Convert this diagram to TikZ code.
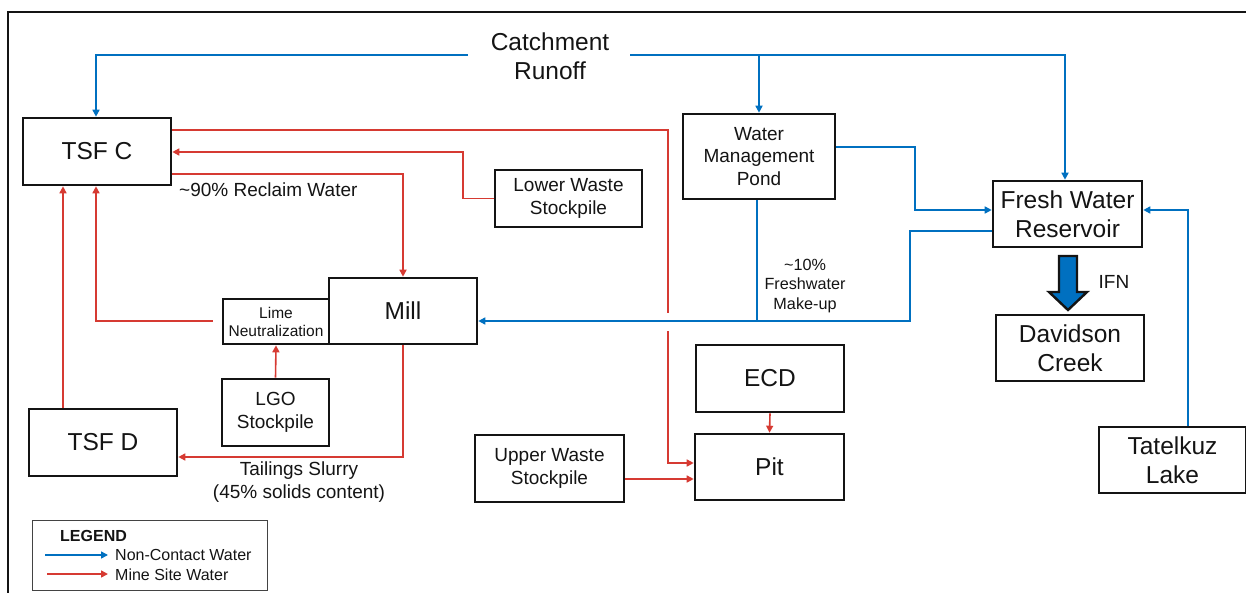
\documentclass[tikz,border=0pt]{standalone}
\usepackage{fontspec}
\setmainfont{Liberation Sans}
\usetikzlibrary{arrows.meta}
\definecolor{bl}{RGB}{0,112,192}
\definecolor{rd}{RGB}{214,58,50}
\definecolor{ink}{RGB}{20,20,20}
\begin{document}
\begin{tikzpicture}[x=1pt,y=-1pt,
  box/.style={draw=ink, line width=2.6pt, rectangle, inner sep=0pt, align=center, text=ink},
  big/.style={font=\fontsize{24.5}{29.5}\selectfont},
  mid/.style={font=\fontsize{19}{22.7}\selectfont},
  sml/.style={font=\fontsize{15.5}{18}\selectfont},
  lbl/.style={inner sep=0pt, align=center, text=ink},
  tip/.style={-{Triangle[length=7pt,width=7pt]}},
  bline/.style={draw=bl, line width=1.6pt},
  rline/.style={draw=rd, line width=1.6pt}
]
\useasboundingbox (0,0) rectangle (1246,593);
% frame
\draw[ink, line width=1.8pt] (8,593) -- (8,12) -- (1250,12);

% nodes
\node[box, big, minimum width=148pt, minimum height=67pt] (tsfc) at (97,151.5) {TSF C};
\node[box, mid, minimum width=152pt, minimum height=85pt] (wmp) at (759,156.5) {Water\\Management\\Pond};
\node[box, mid, line width=2pt, minimum width=147pt, minimum height=57pt] (lws) at (568.5,198.5) {Lower Waste\\Stockpile};
\node[box, big, minimum width=149pt, minimum height=66pt] (fwr) at (1067.5,214) {Fresh Water\\Reservoir};
\node[box, big, minimum width=148pt, minimum height=66pt] (mill) at (403,311) {Mill};
\node[box, sml, minimum width=106pt, minimum height=45pt] (lime) at (276,321.5) {Lime\\Neutralization};
\node[box, mid, minimum width=107pt, minimum height=67pt] (lgo) at (275.5,412.5) {LGO\\Stockpile};
\node[box, big, minimum width=148pt, minimum height=67pt] (tsfd) at (103,442.5) {TSF D};
\node[box, big, minimum width=148pt, minimum height=67pt] (ecd) at (770,378.5) {ECD};
\node[box, big, minimum width=149pt, minimum height=66pt] (pit) at (769.5,467) {Pit};
\node[box, mid, minimum width=149pt, minimum height=67pt] (uws) at (549.5,468.5) {Upper Waste\\Stockpile};
\node[box, big, minimum width=148pt, minimum height=66pt] (dc) at (1070,348) {Davidson\\Creek};
\node[box, big, minimum width=147pt, minimum height=66pt] (tl) at (1172.5,460) {Tatelkuz\\Lake};
\node[lbl, big] (cr) at (550,56) {Catchment\\Runoff};
\coordinate (cL) at (468,55);
\coordinate (cR) at (630,55);

% labels
\node[lbl, mid, anchor=west] (l90) at (179,190) {\textasciitilde90\% Reclaim Water};
\node[lbl, mid] (ltail) at (299,482) {Tailings Slurry\\(45\% solids content)};
\node[lbl, font=\fontsize{16.2}{19.5}\selectfont] (l10) at (805,286) {\textasciitilde10\%\\Freshwater\\Make-up};
\node[lbl, mid] (lifn) at (1114,282) {IFN};

% red connectors
\draw[rline, tip] (tsfc.east |- 0,130) -- (668,130) -- (668,463) -- (pit.west |- 0,463);
\draw[white, line width=4pt] (668,313) -- (668,331);
\draw[rline, tip] (lws.west) -- (463,198.5) -- (463,152) -- (tsfc.east |- 0,152);
\draw[rline, tip] (tsfc.east |- 0,174) -| (mill.north);
\draw[rline, tip, shorten <=9pt] (lime.west |- 0,321) -| (tsfc.south -| 96,0);
\draw[rline, tip] (tsfd.north -| 63,0) -- (tsfc.south -| 63,0);
\draw[rline, tip] (lgo.north) -- (lime.south);
\draw[rline, tip] (mill.south) -- (403,457) -- (tsfd.east |- 0,457);
\draw[rline, tip] (ecd.south) -- (pit.north);
\draw[rline, tip] (uws.east |- 0,479) -- (pit.west |- 0,479);

% blue connectors
\draw[bline, tip] (cL) -| (tsfc.north -| 96,0);
\draw[bline, tip] (cR) -| (fwr.north -| 1065,0);
\draw[bline, tip] (wmp.north |- cR) -- (wmp.north);
\draw[bline, tip] (wmp.east |- 0,147) -- (915,147) -- (915,210) -- (fwr.west |- 0,210);
\draw[bline, tip] (fwr.west |- 0,231) -- (910,231) -- (910,321) -- (mill.east |- 0,321);
\draw[bline] (wmp.south -| 757,0) -- (757,321);
\draw[bline, tip] (tl.north -| 1188,0) -- (1188,210) -- (fwr.east |- 0,210);

% IFN block arrow
\draw[ink, fill=bl, line width=2.4pt, line join=miter]
  (1059,256) -- (1077,256) -- (1077,292) -- (1087,292) -- (1068,310) -- (1049,292) -- (1059,292) -- cycle;

% legend
\node[draw=ink!80, line width=1pt, minimum width=235pt, minimum height=70pt, inner sep=0pt] (leg) at (149.5,555) {};
\node[lbl, font=\bfseries\fontsize{16}{18}\selectfont, anchor=west] (legt) at (60,536) {LEGEND};
\node[lbl, font=\fontsize{16}{18}\selectfont, anchor=west] (legb) at (115,555) {Non-Contact Water};
\node[lbl, font=\fontsize{16}{18}\selectfont, anchor=west] (legr) at (115,575) {Mine Site Water};
\coordinate (lbe) at (108,555);
\coordinate (lre) at (108,574);
\draw[bline, tip] (45,555) -- (lbe);
\draw[rline, tip] (47,574) -- (lre);
\end{tikzpicture}
\end{document}
